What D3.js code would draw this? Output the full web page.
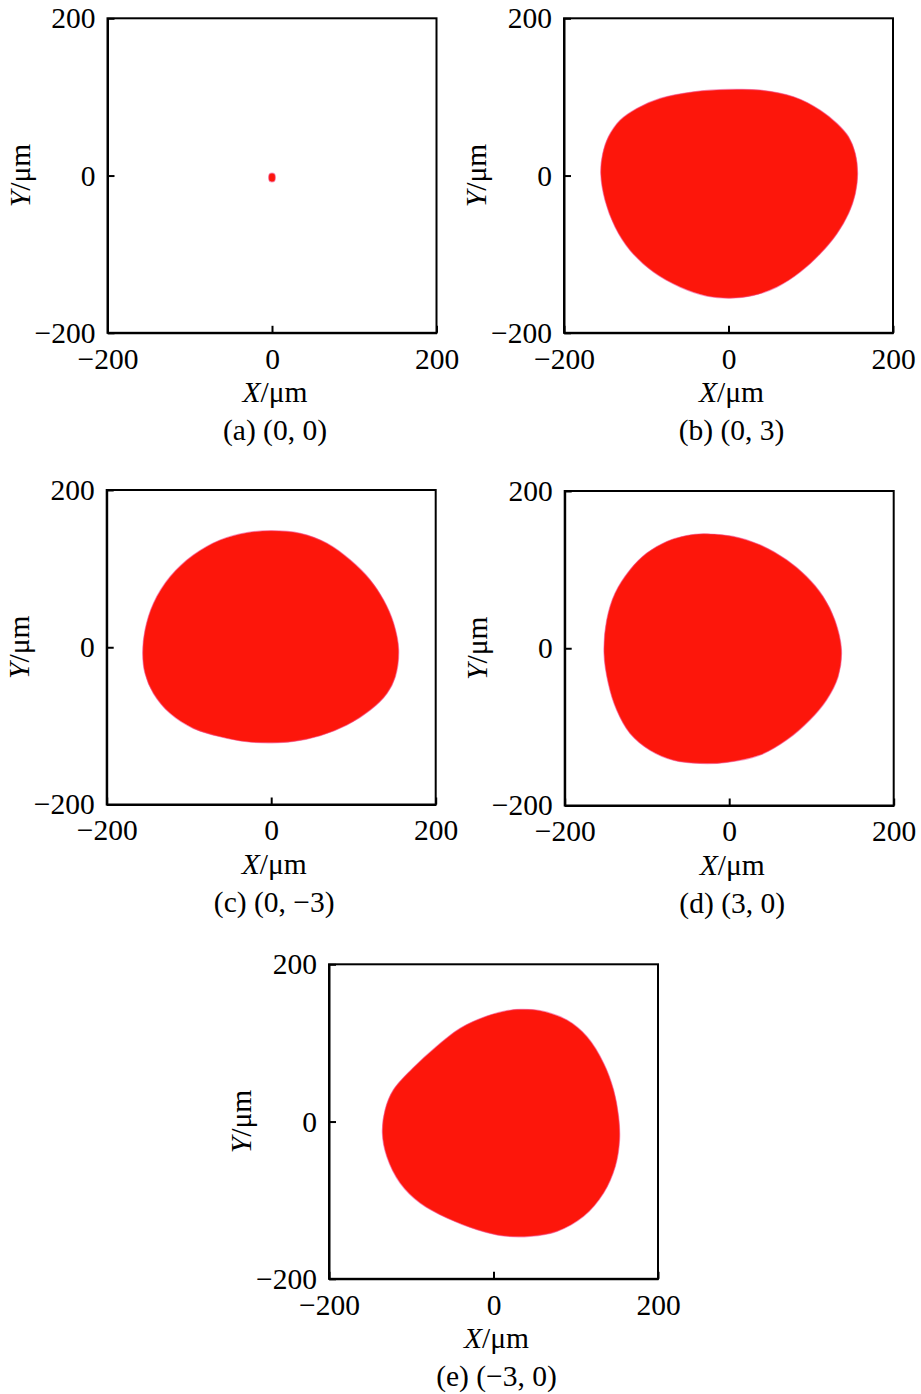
<!DOCTYPE html>
<html>
<head>
<meta charset="utf-8">
<script src="https://cdn.jsdelivr.net/npm/d3@7"></script>
<style>
  html, body { margin: 0; padding: 0; background: #fff; }
  svg { display: block; }
  text { font-family: "Liberation Serif", "Times New Roman", serif; fill: #000; }
</style>
</head>
<body>
<svg id="chart" width="921" height="1394"></svg>
<script>
// ---- data (µm) ----
const tickValues = [-200, 0, 200];
const captions = ["(a) (0, 0)", "(b) (0, 3)", "(c) (0, \u22123)", "(d) (3, 0)", "(e) (\u22123, 0)"];

const spotA = [[0,3],[3,2],[4,-2.5],[3,-7],[0,-8],[-3,-7],[-4,-2.5],[-3,2]];

const spotB = [[2,109.5],[38.6,108.7],[79.1,100.2],[111.6,83.2],[131.9,66.2],[146,49.2],[154.2,28],[157,2.5],
  [154.2,-23],[146,-48.4],[131.9,-73.9],[111.6,-99.4],[87.1,-122.8],[58.7,-141.9],[30.3,-152.5],[2.1,-155.9],
  [-26.3,-153.3],[-58.7,-141.9],[-91.2,-122.8],[-119.6,-95.2],[-137.9,-65.4],[-150.1,-31.5],[-155.3,2.5],
  [-152.9,28],[-146,49.2],[-131.8,70.4],[-111.5,85.3],[-83.1,98.1],[-42.5,106.5]];

const spotC = [[0.8,148.3],[35.3,144.9],[67.8,132.2],[96.2,110.9],[120.5,85.5],[136.7,60],[148.9,30.4],[155,-3.6],
  [150.9,-37.5],[140.8,-58.7],[120.5,-79.9],[92.1,-99],[59.6,-112.6],[27.2,-119.8],[0.8,-121.5],[-29.6,-120.2],
  [-62.1,-113.8],[-94.6,-103.2],[-122.9,-84.1],[-143.2,-58.7],[-153.4,-33.3],[-156.2,-7.8],[-153.4,21.9],
  [-143.2,55.8],[-122.9,89.7],[-94.6,117.3],[-62.1,136.4],[-29.6,145.7]];

const spotD = [[-31.6,145.6],[4.9,142.2],[37.3,131.6],[69.7,112.5],[94,91.2],[114.2,65.7],[128.4,36],[136.5,-2.2],
  [132.4,-36.2],[118.3,-65.9],[98,-91.3],[69.7,-116.8],[37.3,-135.9],[-3.2,-145.2],[-35.6,-146.5],[-68,-142.3],
  [-96.3,-129.6],[-120.6,-108.3],[-136.8,-78.6],[-147,-44.6],[-152.2,-6.4],[-148.9,36],[-138.8,70],
  [-120.6,99.7],[-100.3,121],[-76,135.8],[-51.7,143.4]];

const spotE = [[32.5,142.7],[56.8,141],[89.3,129.1],[113.7,107.9],[133.9,74.2],[146,40.3],[152.1,6.3],[153.3,-23.2],
  [148.1,-57.1],[133.9,-90.9],[109.5,-120.6],[77.1,-139.7],[44.7,-146],[12.2,-145.5],[-20.2,-137.5],[-56.7,-122.7],
  [-89.2,-103.6],[-113.5,-78.2],[-129.7,-44.4],[-135.1,-14.7],[-131.8,14.9],[-121.7,40.3],[-98,68],
  [-71,94],[-40.5,118.6],[-8,134.2],[16.3,141]];

const spots = [spotA, spotB, spotC, spotD, spotE];

// ---- layout ----
const layout = [
  {left: 107.5, top: 18.3},
  {left: 564,   top: 18.3},
  {left: 106.7, top: 490},
  {left: 564.7, top: 491},
  {left: 329,   top: 964.3}
];
const W = 329, H = 314.5;
const FS = 29.5;

const svg = d3.select("#chart");

layout.forEach((p, i) => {
  const g = svg.append("g").attr("transform", `translate(${p.left},${p.top})`);
  const x = d3.scaleLinear().domain([-200, 200]).range([0, W]);
  const y = d3.scaleLinear().domain([-200, 200]).range([H, 0]);

  // spot
  const line = d3.line().x(d => x(d[0])).y(d => y(d[1])).curve(d3.curveCatmullRomClosed.alpha(0.5));
  g.append("path")
    .attr("d", line(spots[i]))
    .attr("fill", "#fd160b")
    .attr("stroke", "#f24a8a")
    .attr("stroke-opacity", 0.55)
    .attr("stroke-width", 1.2);

  // axes
  const xAxis = d3.axisBottom(x).tickValues(tickValues).tickSizeInner(-7).tickSizeOuter(0).tickPadding(15);
  const yAxis = d3.axisLeft(y).tickValues(tickValues).tickSizeInner(-7).tickSizeOuter(0).tickPadding(12);

  const gx = g.append("g").attr("transform", `translate(0,${H})`).call(xAxis);
  const gy = g.append("g").call(yAxis);
  [gx, gy].forEach(a => {
    a.selectAll("path.domain").attr("stroke", "#000").attr("stroke-width", 2);
    a.selectAll(".tick line").attr("stroke", "#000").attr("stroke-width", 2);
    a.selectAll(".tick text").attr("font-size", FS).attr("fill", "#000")
      .style("font-family", '"Liberation Serif", "Times New Roman", serif');
  });

  // box
  g.append("rect").attr("x", 0).attr("y", 0).attr("width", W).attr("height", H)
    .attr("fill", "none").attr("stroke", "#000").attr("stroke-width", 2);

  // x label
  const xl = g.append("text").attr("x", W / 2 + 3).attr("y", H + 69.5)
    .attr("text-anchor", "middle").attr("font-size", FS);
  xl.append("tspan").attr("font-style", "italic").text("X");
  xl.append("tspan").text("/\u03bcm");

  // y label
  const yl = g.append("text")
    .attr("transform", `translate(${-78},${H / 2}) rotate(-90)`)
    .attr("text-anchor", "middle").attr("font-size", FS);
  yl.append("tspan").attr("font-style", "italic").text("Y");
  yl.append("tspan").text("/\u03bcm");

  // caption
  g.append("text").attr("x", W / 2 + 3).attr("y", H + 107.5)
    .attr("text-anchor", "middle").attr("font-size", FS).text(captions[i]);
});
</script>
</body>
</html>
